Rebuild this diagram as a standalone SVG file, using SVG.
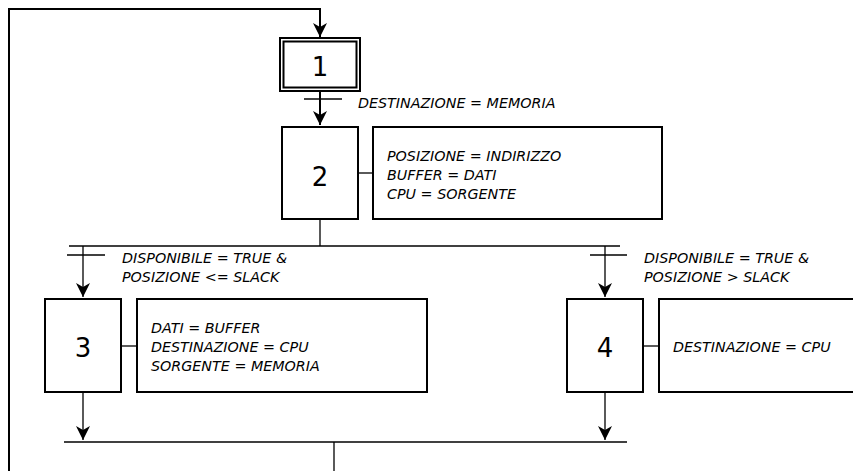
<svg xmlns="http://www.w3.org/2000/svg" width="853" height="471" viewBox="0 0 853 471">
<style>
.box{fill:#fff;stroke:#000;stroke-width:2}
.ln{fill:none;stroke:#000;stroke-width:1.3}
.lt{fill:none;stroke:#000;stroke-width:2}
.num{font-family:"DejaVu Sans",Verdana,sans-serif;font-size:26px;text-anchor:middle;fill:#000}
.lab{font-family:"DejaVu Sans",Verdana,sans-serif;font-size:14.3px;font-style:italic;fill:#000}
</style>
<defs>
<marker id="arr" markerUnits="userSpaceOnUse" markerWidth="18" markerHeight="18" viewBox="-16 -9 18 18" refX="0" refY="0" orient="auto">
<path d="M0,0 L-14,-7 L-10,0 L-14,7 Z" fill="#000"/>
</marker>
</defs>
<rect width="853" height="471" fill="#fff"/>
<g id="connectors">
<path class="lt" d="M9,471 V9 H320 V37" marker-end="url(#arr)"/>
<path class="lt" d="M320,91 V125" marker-end="url(#arr)"/>
<path class="ln" d="M304,99 H342" stroke-width="1.6"/>
<path class="ln" d="M320,219 V246"/>
<path class="ln" d="M69,246 H620"/>
<path class="ln" d="M83,246 V297" marker-end="url(#arr)"/>
<path class="ln" d="M67,255 H105"/>
<path class="ln" d="M605,246 V297" marker-end="url(#arr)"/>
<path class="ln" d="M590,255 H627"/>
<path class="ln" d="M83,392 V440" marker-end="url(#arr)"/>
<path class="ln" d="M605,392 V440" marker-end="url(#arr)"/>
<path class="ln" d="M64,442 H627"/>
<path class="ln" d="M334,442 V471"/>
<path class="ln" d="M358,173 H373"/>
<path class="ln" d="M121,346 H137"/>
<path class="ln" d="M643,346 H659"/>
<text class="lab" x="358" y="108">DESTINAZIONE = MEMORIA</text>
<text class="lab" x="122" y="263">DISPONIBILE = TRUE &amp;</text>
<text class="lab" x="122" y="282">POSIZIONE &lt;= SLACK</text>
<text class="lab" x="644" y="263">DISPONIBILE = TRUE &amp;</text>
<text class="lab" x="644" y="282">POSIZIONE &gt; SLACK</text>
</g>
<g id="step1">
<rect class="box" x="280" y="38" width="80" height="53" stroke-width="1.5"/>
<rect class="box" x="283.5" y="41.5" width="73" height="46" stroke-width="1.5"/>
<text class="num" x="320" y="76">1</text>
</g>
<g id="step2">
<rect class="box" x="282" y="127" width="76" height="92"/>
<text class="num" x="320" y="186">2</text>
</g>
<g id="action2">
<rect class="box" x="373" y="127" width="289" height="92"/>
<text class="lab" x="387" y="161">POSIZIONE = INDIRIZZO</text>
<text class="lab" x="387" y="180">BUFFER = DATI</text>
<text class="lab" x="387" y="199">CPU = SORGENTE</text>
</g>
<g id="step3">
<rect class="box" x="45" y="299" width="76" height="93"/>
<text class="num" x="83" y="357">3</text>
</g>
<g id="action3">
<rect class="box" x="137" y="299" width="290" height="93"/>
<text class="lab" x="151" y="333">DATI = BUFFER</text>
<text class="lab" x="151" y="352">DESTINAZIONE = CPU</text>
<text class="lab" x="151" y="371">SORGENTE = MEMORIA</text>
</g>
<g id="step4">
<rect class="box" x="567" y="299" width="76" height="93"/>
<text class="num" x="605" y="357">4</text>
</g>
<g id="action4">
<rect class="box" x="659" y="299" width="220" height="93"/>
<text class="lab" x="673" y="352">DESTINAZIONE = CPU</text>
</g>
</svg>
